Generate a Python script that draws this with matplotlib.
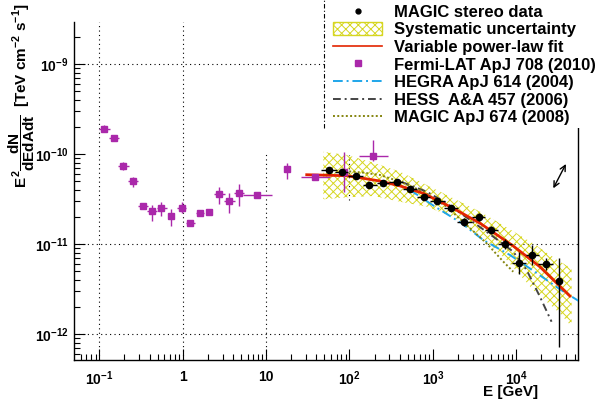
import numpy as np
import matplotlib
matplotlib.use('Agg')
import matplotlib.pyplot as plt
from matplotlib.lines import Line2D
from matplotlib.patches import Patch, Rectangle
from matplotlib.ticker import LogLocator, NullFormatter, FixedLocator, FixedFormatter

plt.rcParams['font.family'] = ['Liberation Sans', 'DejaVu Sans']
plt.rcParams['font.weight'] = 'bold'
plt.rcParams['mathtext.fontset'] = 'custom'
plt.rcParams['mathtext.rm'] = 'Liberation Sans:bold'
plt.rcParams['mathtext.it'] = 'Liberation Sans:bold'
plt.rcParams['mathtext.bf'] = 'Liberation Sans:bold'
plt.rcParams['mathtext.sf'] = 'Liberation Sans:bold'
plt.rcParams['hatch.linewidth'] = 0.7

# ---------------- data ----------------
# Fermi-LAT ApJ 708 (2010)
fermi_E    = [0.115, 0.150, 0.194, 0.254, 0.331, 0.428, 0.553, 0.730, 0.98, 1.23, 1.61, 2.08, 2.75, 3.62, 4.69, 7.85, 17.7, 38.5, 86.0, 193.0]
fermi_Elo  = [0.100, 0.131, 0.169, 0.222, 0.289, 0.376, 0.488, 0.680, 0.85, 1.11, 1.44, 1.94, 2.36, 3.13, 4.11, 5.30, 16.4, 26.0, 86.0, 129.0]
fermi_Ehi  = [0.134, 0.172, 0.227, 0.293, 0.380, 0.496, 0.643, 0.790, 1.09, 1.40, 1.81, 2.25, 3.22, 4.26, 5.41, 11.9, 18.9, 59.0, 86.0, 290.0]
fermi_F    = [1.90e-10, 1.50e-10, 7.3e-11, 5.0e-11, 2.64e-11, 2.34e-11, 2.50e-11, 2.06e-11, 2.50e-11, 1.71e-11,
              2.20e-11, 2.26e-11, 3.58e-11, 3.02e-11, 3.70e-11, 3.49e-11, 6.78e-11, 5.6e-11, 6.3e-11, 9.5e-11]
fermi_Flo  = [1.74e-10, 1.45e-10, 6.6e-11, 4.26e-11, 2.55e-11, 1.83e-11, 2.07e-11, 1.60e-11, 2.20e-11, 1.63e-11,
              2.04e-11, 2.18e-11, 2.79e-11, 2.24e-11, 2.65e-11, 3.45e-11, 5.33e-11, 5.3e-11, 3.77e-11, 8.4e-11]
fermi_Fhi  = [2.08e-10, 1.55e-10, 8.1e-11, 5.5e-11, 2.74e-11, 2.71e-11, 2.92e-11, 2.45e-11, 2.96e-11, 1.80e-11,
              2.37e-11, 2.35e-11, 4.28e-11, 3.68e-11, 4.65e-11, 3.53e-11, 8.03e-11, 5.9e-11, 1.05e-10, 1.43e-10]

# MAGIC stereo data
magic_E   = [56.8, 81.3, 120, 172, 250, 368, 531, 776, 1130, 1650, 2360, 3540, 5010, 7380, 10870, 15560, 22500, 32800]
magic_Elo = [45, 67, 97, 144, 212, 300, 442, 640, 930, 1350, 1930, 2920, 4220, 6080, 8810, 13060, 18380, 32800]
magic_Ehi = [70, 97, 147, 212, 298, 442, 640, 930, 1390, 2000, 2920, 4220, 6080, 8810, 13060, 18870, 27800, 32800]
magic_F   = [6.6e-11, 6.3e-11, 5.67e-11, 4.57e-11, 4.74e-11, 4.94e-11, 4.10e-11, 3.34e-11, 3.04e-11, 2.50e-11,
             1.76e-11, 1.99e-11, 1.44e-11, 1.00e-11, 6.14e-12, 7.6e-12, 5.98e-12, 3.91e-12]
magic_Flo = [6.11e-11, 5.83e-11, 5.25e-11, 4.23e-11, 4.39e-11, 4.57e-11, 3.80e-11, 3.09e-11, 2.81e-11, 2.31e-11,
             1.59e-11, 1.80e-11, 1.30e-11, 0.88e-11, 4.63e-12, 5.89e-12, 5.13e-12, 7.3e-13]
magic_Fhi = [7.13e-11, 6.80e-11, 6.12e-11, 4.94e-11, 5.12e-11, 5.34e-11, 4.43e-11, 3.61e-11, 3.28e-11, 2.70e-11,
             1.95e-11, 2.20e-11, 1.59e-11, 1.14e-11, 8.14e-12, 9.81e-12, 6.97e-12, 6.98e-12]

# Systematic uncertainty band
band_E  = [48.5, 92.5, 193, 404, 842, 1758, 3670, 7670, 16000, 33400, 46100]
band_hi = [1.06e-10, 9.77e-11, 8.04e-11, 6.38e-11, 4.54e-11, 3.23e-11, 2.30e-11, 1.54e-11, 1.02e-11, 6.40e-12, 5.40e-12]
band_lo = [3.15e-11, 3.31e-11, 3.43e-11, 2.96e-11, 2.61e-11, 1.99e-11, 1.21e-11, 6.68e-12, 3.10e-12, 1.71e-12, 1.22e-12]

# Variable power-law fit
fit_E = [30.7, 92.5, 147, 232, 404, 767, 1758, 3670, 9200, 19200, 44000]
fit_F = [5.90e-11, 5.75e-11, 5.38e-11, 5.02e-11, 4.43e-11, 3.67e-11, 2.50e-11, 1.71e-11, 9.55e-12, 5.62e-12, 2.66e-12]

# HEGRA ApJ 614 (2004)
hegra_E = [531, 1060, 2210, 4030, 8400, 16000, 33400, 58000]
hegra_F = [4.0e-11, 2.61e-11, 1.71e-11, 1.11e-11, 7.59e-12, 5.08e-12, 3.16e-12, 2.30e-12]

# HESS A&A 457 (2006)
hess_E = [423, 842, 1460, 2790, 5310, 9200, 13300, 19200, 26500]
hess_F = [4.90e-11, 3.83e-11, 2.84e-11, 1.86e-11, 1.21e-11, 8.26e-12, 5.18e-12, 2.62e-12, 1.38e-12]

# MAGIC ApJ 674 (2008)
m08_E = [88.3, 147, 232, 404, 767, 1460, 2540, 4420, 7000, 9200]
m08_F = [6.49e-11, 6.22e-11, 5.86e-11, 4.94e-11, 3.83e-11, 2.61e-11, 1.63e-11, 1.02e-11, 6.40e-12, 4.95e-12]

# double arrow (systematic energy-scale indicator)
arrow_E = [27800, 39400]
arrow_F = [4.17e-11, 7.76e-11]

x_ticks = [0.1, 1, 10, 100, 1000, 10000]
x_ticklabels = ['$10^{-1}$', '1', '10', '$10^{2}$', '$10^{3}$', '$10^{4}$']
y_ticks = [1e-12, 1e-11, 1e-10, 1e-9]
y_ticklabels = ['$10^{-12}$', '$10^{-11}$', '$10^{-10}$', '$10^{-9}$']

xlim = (0.0501, 5.5e4)
ylim = (5.19e-13, 2.92e-9)

# partial grid lines as in the reference
gridv_x  = [0.1, 1, 10, 100]
gridv_lo = [ylim[0], ylim[0], ylim[0], 3.1e-11]
gridv_hi = [ylim[1], ylim[1], 1.05e-10, 9.8e-11]
gridh_y  = [1e-9, 1e-11, 1e-12]

legend_labels = ['MAGIC stereo data', 'Systematic uncertainty', 'Variable power-law fit',
                 'Fermi-LAT ApJ 708 (2010)', 'HEGRA ApJ 614 (2004)', 'HESS  A&A 457 (2006)',
                 'MAGIC ApJ 674 (2008)']

# colours
c_fermi = '#aa28aa'
c_fit = '#e32400'
c_band = '#d6d620'
c_hegra = '#1fa6ea'
c_hess = '#444444'
c_m08 = '#858510'

# ---------------- figure ----------------
fig = plt.figure(figsize=(5.99, 4.05), dpi=100)
W, H = 599.0, 405.0
ax = fig.add_axes([74.3 / W, (H - 360) / H, (578 - 74.3) / W, (360 - 22) / H])
ax.set_xscale('log')
ax.set_yscale('log')
ax.set_xlim(*xlim)
ax.set_ylim(*ylim)

grid_kw = dict(colors='k', linewidth=0.8, linestyles=(0, (1, 3)), zorder=1)
ax.vlines(gridv_x, gridv_lo, gridv_hi, **grid_kw)
ax.hlines(gridh_y, xlim[0], xlim[1], **grid_kw)

# systematic band
ax.fill_between(band_E, band_lo, band_hi, facecolor='none', edgecolor=c_band,
                hatch='xxxx', linewidth=0, zorder=2)

# models
ax.plot(hegra_E, hegra_F, color=c_hegra, lw=1.4, dashes=(5, 2, 1, 2), zorder=3)
ax.plot(hess_E, hess_F, color=c_hess, lw=1.4, dashes=(4, 2, 1, 2), zorder=3)
ax.plot(m08_E, m08_F, color=c_m08, lw=1.4, dashes=(1, 1.2), zorder=3)
ax.plot(fit_E, fit_F, color=c_fit, lw=2.0, zorder=4)

fE = np.array(fermi_E); fF = np.array(fermi_F)
ax.errorbar(fE, fF,
            xerr=[fE - np.array(fermi_Elo), np.array(fermi_Ehi) - fE],
            yerr=[fF - np.array(fermi_Flo), np.array(fermi_Fhi) - fF],
            fmt='s', color=c_fermi, ms=4.2, elinewidth=1.0, capsize=0, zorder=5)

mE = np.array(magic_E); mF = np.array(magic_F)
ax.errorbar(mE, mF,
            xerr=[mE - np.array(magic_Elo), np.array(magic_Ehi) - mE],
            yerr=[mF - np.array(magic_Flo), np.array(magic_Fhi) - mF],
            fmt='o', color='black', ms=4.5, elinewidth=1.0, capsize=0, zorder=6)

ax.annotate('', xy=(arrow_E[1], arrow_F[1]), xytext=(arrow_E[0], arrow_F[0]),
            arrowprops=dict(arrowstyle='<->', color='black', lw=1.0,
                            shrinkA=0, shrinkB=0))

# axes styling
ax.spines['top'].set_visible(False)
for s in ['left', 'bottom', 'right']:
    ax.spines[s].set_linewidth(1.0)
ax.xaxis.set_major_locator(FixedLocator(x_ticks))
ax.xaxis.set_major_formatter(FixedFormatter(x_ticklabels))
ax.xaxis.set_minor_locator(LogLocator(base=10, subs=np.arange(2, 10), numticks=20))
ax.xaxis.set_minor_formatter(NullFormatter())
ax.yaxis.set_major_locator(FixedLocator(y_ticks))
ax.yaxis.set_major_formatter(FixedFormatter(y_ticklabels))
ax.yaxis.set_minor_locator(LogLocator(base=10, subs=np.arange(2, 10), numticks=20))
ax.yaxis.set_minor_formatter(NullFormatter())
ax.tick_params(which='both', direction='in', top=False, right=False, width=0.8)
ax.tick_params(which='major', length=8, labelsize=10)
ax.tick_params(which='minor', length=4)
ax.tick_params(axis='x', which='major', pad=7)
ax.tick_params(axis='y', which='major', pad=4)

# axis titles
fig.text(538 / W, 1 - 392 / H, 'E [GeV]', ha='right', va='center', fontsize=11, fontweight='bold')
fig.text(22 / W, 1 - 3 / H, r'$E^{2}\dfrac{dN}{dEdAdt}\;\;$[TeV cm$^{-2}$ s$^{-1}$]',
         rotation=90, ha='center', va='top', fontsize=11, fontweight='bold')

# legend box (white, dash-dot left border)
fig.add_artist(Rectangle((324 / W, 1 - 128 / H), 1.0, 1.0, transform=fig.transFigure,
                         facecolor='white', edgecolor='none', zorder=4))
fig.add_artist(Line2D([324 / W, 324 / W], [1 - 128 / H, 1.0], transform=fig.transFigure,
                      color='black', lw=0.8, dashes=(4, 2, 1, 2), zorder=5))

handles = [
    Line2D([], [], marker='o', color='black', ls='none', ms=3.5),
    Patch(facecolor='none', edgecolor=c_band, hatch='xxxx', lw=1.0),
    Line2D([], [], color=c_fit, lw=1.2),
    Line2D([], [], marker='s', color=c_fermi, ls='none', ms=4),
    Line2D([], [], color=c_hegra, lw=1.4, dashes=(5, 2, 1, 2)),
    Line2D([], [], color=c_hess, lw=1.4, dashes=(4, 2, 1, 2)),
    Line2D([], [], color=c_m08, lw=1.4, dashes=(1, 1.2)),
]
leg = fig.legend(handles, legend_labels, loc='upper left', bbox_to_anchor=(333 / W, 1 - 4.5 / H),
                 bbox_transform=fig.transFigure, frameon=False,
                 prop={'weight': 'bold', 'size': 12}, handlelength=2.95, handletextpad=0.7,
                 labelspacing=0.155, borderaxespad=0, borderpad=0, handleheight=0.78, numpoints=1)
leg.set_zorder(6)

fig.savefig('out.png', dpi=100)
